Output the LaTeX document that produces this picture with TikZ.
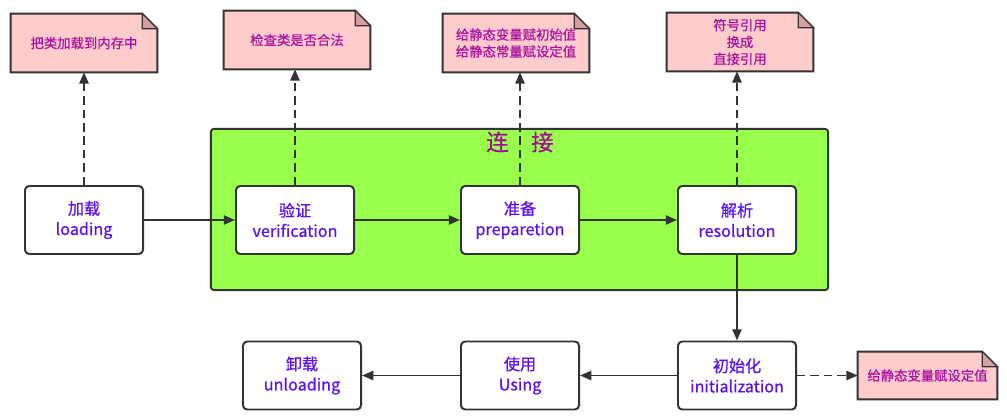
\documentclass[tikz,border=0pt]{standalone}
\usepackage{fontspec}
\setmainfont[FakeBold=0.6]{Noto Sans CJK SC}
\usetikzlibrary{arrows.meta}

\definecolor{linkgreen}{RGB}{153,255,77}
\definecolor{notepink}{RGB}{255,204,204}
\definecolor{notefold}{RGB}{214,158,158}
\definecolor{edgegray}{RGB}{51,51,51}
\definecolor{stagetext}{RGB}{92,16,236}
\definecolor{notetext}{RGB}{170,17,160}
\definecolor{titletext}{RGB}{160,10,150}

\tikzset{
  stage/.style={draw=edgegray, line width=1.4pt, fill=white, rounded corners=3pt,
    minimum width=2.95cm, minimum height=1.7cm, align=center, text=stagetext,
    font=\fontsize{11.5}{14.5}\selectfont},
  note/.style={minimum width=3.65cm, minimum height=1.45cm, align=center,
    text=notetext, font=\fontsize{9.5}{12}\selectfont},
  linkbox/.style={draw=edgegray, line width=1.4pt, fill=linkgreen, rounded corners=2pt,
    minimum width=15.425cm, minimum height=4.025cm},
  flow/.style={->, draw=edgegray, line width=1.4pt},
  hint/.style={->, draw=edgegray, line width=1.4pt, dash pattern=on 6pt off 3.5pt},
}

% folded-corner outline round a note node
\newcommand\foldnote[1]{%
  \filldraw[fill=notepink, draw=edgegray, line width=1.4pt, line join=miter]
    (#1.south west) -- (#1.north west) -- ([xshift=-0.375cm]#1.north east)
    -- ([yshift=-0.375cm]#1.north east) -- (#1.south east) -- cycle;
  \filldraw[fill=notefold, draw=edgegray, line width=0.8pt]
    ([xshift=-0.375cm]#1.north east) -- ([xshift=-0.375cm,yshift=-0.375cm]#1.north east)
    -- ([yshift=-0.375cm]#1.north east) -- cycle;
}

\begin{document}
\begin{tikzpicture}[x=0.025cm, y=-0.025cm, >={Triangle[length=8pt, width=6.5pt]}]
  \useasboundingbox (0,0) rectangle (1007,419);

  \node[linkbox] (link) at (519.5,209.5) {};
  \node[text=titletext, font=\fontsize{16}{16}\selectfont] (linktitle) at (520,142) {连\quad 接};

  \node[stage] (load) at (84,220) {加载\\loading};
  \node[stage] (verify) at (295,220) {验证\\verification};
  \node[stage] (prepare) at (520,220) {准备\\preparetion};
  \node[stage] (resolve) at (737,220) {解析\\resolution};
  \node[stage] (init) at (737,375.5) {初始化\\initialization};
  \node[stage] (use) at (520,375.5) {使用\\Using};
  \node[stage] (unload) at (302,375.5) {卸载\\unloading};

  \path (84,43) node[note] (loadnote) {};
  \path (297,40) node[note] (verifynote) {};
  \path (516,43) node[note] (preparenote) {};
  \path (740,42) node[note] (resolvenote) {};
  \path (927.5,375.5) node[note, minimum width=3.475cm, minimum height=1.175cm] (initnote) {};
  \foldnote{loadnote} \foldnote{verifynote} \foldnote{preparenote}
  \foldnote{resolvenote} \foldnote{initnote}
  \node[note] at (loadnote) {把类加载到内存中};
  \node[note] at (verifynote) {检查类是否合法};
  \node[note] at (preparenote) {给静态变量赋初始值\\给静态常量赋设定值};
  \node[note] at (resolvenote) {符号引用\\换成\\直接引用};
  \node[note, minimum width=3.475cm, minimum height=1.175cm] at (initnote) {给静态变量赋设定值};

  \draw[flow] (load) to (verify); \draw[flow] (verify) to (prepare); \draw[flow] (prepare) to (resolve);
  \draw[flow] (resolve) to (init); \draw[flow] (init) to (use); \draw[flow] (use) to (unload);
  \draw[hint] (load.north) to (load.north |- loadnote.south);
  \draw[hint] (verify.north) to (verify.north |- verifynote.south);
  \draw[hint] (prepare.north) to (prepare.north |- preparenote.south);
  \draw[hint] (resolve.north) to (resolve.north |- resolvenote.south);
  \draw[hint] (init) to (initnote);
\end{tikzpicture}
\end{document}
